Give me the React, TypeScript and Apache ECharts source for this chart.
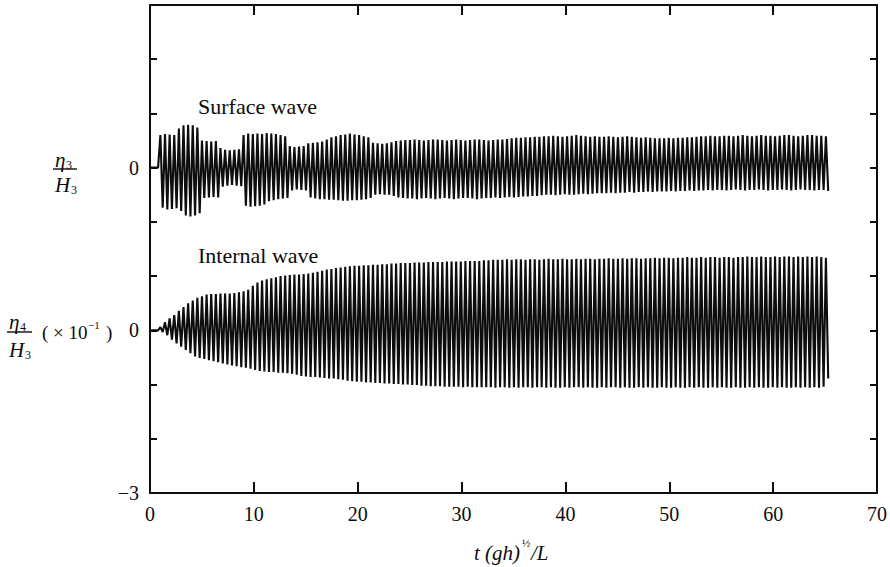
import React, { useEffect, useRef } from 'react';
import * as echarts from 'echarts';

// ---- axes ----
const X_MIN = 0;
const X_MAX = 70;
const X_STEP = 10;
const Y_MIN = -3;
const Y_MAX = 6;
const Y_STEP = 1;
// surface-wave axis (same tick spacing, zero three ticks higher)
const YS_MIN = -6;
const YS_MAX = 3;
const Y_LABEL_VALUES = [-3, 0, 3];
const Y_LABEL_TEXTS = ['\u22123', '0', '0'];

// ---- sampling of the records: one crest and one trough per wave period ----
const T_START = 1.0;
const PERIOD = 0.445;

// Surface wave eta3/H3: crest heights and trough depths per period (tick units)
const SURF_UP = [
  0.60, 0.62, 0.61, 0.60,
  0.72, 0.78, 0.79, 0.78, 0.74,
  0.50, 0.49, 0.48, 0.49,
  0.36, 0.33, 0.32, 0.33, 0.34,
  0.60, 0.63, 0.62, 0.63, 0.62,
  0.64, 0.63, 0.62, 0.60, 0.58,
  0.40, 0.38, 0.39, 0.40,
  0.45, 0.46, 0.47, 0.48, 0.52,
  0.56, 0.58, 0.60, 0.61, 0.63, 0.61, 0.60, 0.58, 0.56,
  0.46, 0.45, 0.44, 0.45, 0.47,
  0.49, 0.50, 0.51, 0.51, 0.52, 0.51, 0.50, 0.51, 0.52, 0.52, 0.51, 0.50, 0.51, 0.52, 0.51, 0.50, 0.51, 0.52, 0.52, 0.51, 0.50,
  0.51, 0.52, 0.52, 0.53, 0.54, 0.55, 0.55, 0.56, 0.56, 0.57,
  0.57, 0.58, 0.58, 0.59, 0.58, 0.57, 0.58, 0.59, 0.60, 0.59, 0.58, 0.57, 0.58, 0.57,
  0.57, 0.58, 0.57, 0.56, 0.57, 0.58, 0.57, 0.56, 0.55, 0.56, 0.55, 0.54,
  0.54, 0.54, 0.55, 0.54, 0.55, 0.55, 0.56, 0.56, 0.57,
  0.58, 0.58, 0.59, 0.58, 0.58, 0.59, 0.59, 0.58, 0.59, 0.60, 0.59, 0.58, 0.59, 0.60,
  0.59, 0.59, 0.58, 0.59, 0.60, 0.60, 0.59, 0.58, 0.59, 0.60, 0.60, 0.59, 0.59, 0.58,
];
const SURF_DN = [
  0.74, 0.77, 0.76, 0.75,
  0.80, 0.88, 0.90, 0.88, 0.84,
  0.56, 0.55, 0.54, 0.55,
  0.35, 0.33, 0.32, 0.33, 0.34,
  0.70, 0.72, 0.71, 0.70, 0.68,
  0.62, 0.60, 0.58, 0.57, 0.56,
  0.42, 0.40, 0.41, 0.42,
  0.55, 0.57, 0.58, 0.58, 0.59,
  0.59, 0.60, 0.61, 0.61, 0.60, 0.60, 0.59, 0.58, 0.56,
  0.50, 0.49, 0.50, 0.50, 0.52,
  0.55, 0.56, 0.57, 0.57, 0.58, 0.57, 0.56, 0.57, 0.58, 0.57, 0.56, 0.57, 0.58, 0.57, 0.56, 0.56, 0.57, 0.58, 0.57, 0.56, 0.56,
  0.55, 0.56, 0.55, 0.54, 0.55, 0.54, 0.53, 0.53, 0.52, 0.52,
  0.51, 0.50, 0.50, 0.51, 0.50, 0.49, 0.50, 0.50, 0.49, 0.48, 0.49, 0.48, 0.47, 0.47,
  0.47, 0.46, 0.47, 0.46, 0.46, 0.45, 0.46, 0.45, 0.45, 0.44, 0.45, 0.44,
  0.44, 0.44, 0.43, 0.44, 0.43, 0.43, 0.42, 0.43, 0.42,
  0.42, 0.41, 0.42, 0.41, 0.41, 0.42, 0.41, 0.40, 0.41, 0.42, 0.41, 0.41, 0.40, 0.41,
  0.42, 0.41, 0.41, 0.40, 0.41, 0.42, 0.41, 0.40, 0.41, 0.41, 0.42, 0.41, 0.41, 0.43,
];

// Internal wave eta4/H3 (x10^-1): crest heights and trough depths per period
const INT_UP = [
  0.06, 0.15, 0.22, 0.28, 0.36, 0.43, 0.50, 0.55, 0.60, 0.63, 0.66,
  0.67, 0.67, 0.68, 0.68, 0.68, 0.69, 0.70, 0.72, 0.75,
  0.82, 0.88, 0.92, 0.94, 0.96, 0.98, 1.00, 1.01, 1.02, 1.03,
  1.03, 1.04, 1.05, 1.06, 1.08, 1.10, 1.12, 1.13, 1.15, 1.16,
  1.17, 1.18, 1.19, 1.19, 1.20, 1.20, 1.21, 1.21, 1.22, 1.22,
  1.23, 1.23, 1.24, 1.24, 1.24, 1.25, 1.25, 1.25, 1.26, 1.26,
  1.26, 1.26, 1.27, 1.27, 1.27, 1.27, 1.28, 1.28, 1.28, 1.28,
  1.29, 1.29, 1.30, 1.30, 1.30, 1.31, 1.30, 1.31, 1.31, 1.30,
  1.31, 1.31, 1.30, 1.31, 1.32, 1.31, 1.31, 1.32, 1.31, 1.31,
  1.32, 1.31, 1.32, 1.32, 1.31, 1.32, 1.32, 1.33, 1.32, 1.32,
  1.33, 1.32, 1.33, 1.33, 1.32, 1.33, 1.33, 1.34, 1.33, 1.34,
  1.34, 1.33, 1.34, 1.34, 1.35, 1.34, 1.34, 1.35, 1.34, 1.35,
  1.35, 1.34, 1.35, 1.35, 1.34, 1.35, 1.35, 1.36, 1.35, 1.35,
  1.36, 1.35, 1.35, 1.36, 1.35, 1.36, 1.36, 1.35, 1.36, 1.35,
  1.36, 1.35, 1.36, 1.35, 1.34,
];
const INT_DN = [
  0.03, 0.09, 0.17, 0.24, 0.30, 0.36, 0.42, 0.48, 0.51, 0.53, 0.55,
  0.57, 0.59, 0.61, 0.63, 0.65, 0.66, 0.68, 0.69, 0.71,
  0.73, 0.75, 0.76, 0.77, 0.77, 0.78, 0.78, 0.79, 0.80, 0.82,
  0.84, 0.85, 0.86, 0.86, 0.87, 0.88, 0.89, 0.89, 0.90, 0.91,
  0.93, 0.94, 0.95, 0.95, 0.96, 0.96, 0.97, 0.97, 0.98, 0.98,
  0.99, 0.99, 1.00, 1.00, 1.01, 1.01, 1.02, 1.02, 1.03, 1.03,
  1.03, 1.04, 1.04, 1.04, 1.04, 1.05, 1.04, 1.05, 1.05, 1.05,
  1.05, 1.05, 1.06, 1.05, 1.05, 1.06, 1.05, 1.06, 1.05, 1.05,
  1.06, 1.05, 1.05, 1.06, 1.05, 1.06, 1.06, 1.05, 1.06, 1.05,
  1.05, 1.06, 1.05, 1.06, 1.06, 1.05, 1.06, 1.05, 1.05, 1.06,
  1.05, 1.06, 1.06, 1.05, 1.06, 1.05, 1.06, 1.06, 1.05, 1.06,
  1.06, 1.05, 1.06, 1.06, 1.05, 1.06, 1.05, 1.06, 1.06, 1.05,
  1.06, 1.05, 1.06, 1.06, 1.05, 1.06, 1.06, 1.05, 1.06, 1.05,
  1.06, 1.06, 1.05, 1.06, 1.05, 1.06, 1.06, 1.05, 1.06, 1.05,
  1.06, 1.05, 1.06, 1.04, 0.89,
];

const INK = '#0d0d0d';
const SERIF = '"Liberation Serif", "Times New Roman", serif';

function record(up: number[], dn: number[]): number[][] {
  const pts: number[][] = [[0, 0], [T_START - PERIOD / 2, 0]];
  up.forEach((u, i) => {
    pts.push([T_START + i * PERIOD, u]);
    pts.push([T_START + (i + 0.5) * PERIOD, -dn[i]]);
  });
  return pts;
}

function txt(text: string, x: number, y: number, size: number, italic = false) {
  return {
    type: 'text',
    x,
    y,
    silent: true,
    style: {
      text,
      fill: INK,
      fontSize: size,
      fontFamily: SERIF,
      fontStyle: italic ? 'italic' : 'normal',
      textAlign: 'left',
      textVerticalAlign: 'middle',
    },
  };
}

function rule(x1: number, x2: number, y: number) {
  return {
    type: 'line',
    silent: true,
    shape: { x1, y1: y, x2, y2: y },
    style: { stroke: INK, lineWidth: 1.4 },
  };
}

const axisCommon = {
  axisLine: { show: true, onZero: false, lineStyle: { color: INK, width: 2 } },
  splitLine: { show: false },
};

export default function App() {
  const ref = useRef<HTMLDivElement>(null);
  useEffect(() => {
    const chart = echarts.init(ref.current!, null, { renderer: 'svg' });
    const option: any = {
      animation: false,
      backgroundColor: '#ffffff',
      grid: { left: 150, top: 5, width: 730, height: 488, containLabel: false },
      xAxis: [
        {
          type: 'value',
          position: 'bottom',
          min: X_MIN,
          max: X_MAX,
          interval: X_STEP,
          ...axisCommon,
          axisTick: { show: true, inside: true, length: 11, lineStyle: { color: INK, width: 2 } },
          axisLabel: { color: INK, fontSize: 20, fontFamily: SERIF, margin: 11 },
        },
        {
          type: 'value',
          position: 'top',
          min: X_MIN,
          max: X_MAX,
          interval: X_STEP,
          ...axisCommon,
          axisTick: { show: true, inside: true, length: 10, lineStyle: { color: INK, width: 2 } },
          axisLabel: { show: false },
        },
      ],
      yAxis: [
        {
          type: 'value',
          position: 'left',
          min: Y_MIN,
          max: Y_MAX,
          interval: Y_STEP,
          ...axisCommon,
          axisTick: { show: true, inside: true, length: 7, lineStyle: { color: INK, width: 2 } },
          axisLabel: {
            color: INK,
            fontSize: 20,
            fontFamily: SERIF,
            margin: 11,
            formatter: (v: number) => {
              const i = Y_LABEL_VALUES.indexOf(v);
              return i >= 0 ? Y_LABEL_TEXTS[i] : '';
            },
          },
        },
        {
          type: 'value',
          position: 'right',
          min: YS_MIN,
          max: YS_MAX,
          interval: Y_STEP,
          ...axisCommon,
          axisTick: { show: true, inside: true, length: 7, lineStyle: { color: INK, width: 2 } },
          axisLabel: { show: false },
        },
      ],
      series: [
        {
          name: 'Surface wave',
          type: 'line',
          xAxisIndex: 0,
          yAxisIndex: 1,
          data: record(SURF_UP, SURF_DN),
          showSymbol: false,
          symbol: 'none',
          lineStyle: { color: INK, width: 2.1 },
          silent: true,
        },
        {
          name: 'Internal wave',
          type: 'line',
          xAxisIndex: 0,
          yAxisIndex: 0,
          data: record(INT_UP, INT_DN),
          showSymbol: false,
          symbol: 'none',
          lineStyle: { color: INK, width: 2.1 },
          silent: true,
        },
      ],
      graphic: [
        txt('Surface wave', 198, 106, 22),
        txt('Internal wave', 198, 255, 22),
        // eta3 / H3
        txt('\u03b7', 55, 160, 21, true),
        txt('3', 66, 165, 12),
        rule(53, 77, 169),
        txt('H', 55, 185, 21, true),
        txt('3', 71, 190, 12),
        // eta4 / H3 (x10^-1)
        txt('\u03b7', 9, 322, 21, true),
        txt('4', 20, 327, 12),
        rule(7, 32, 332),
        txt('H', 9, 350, 21, true),
        txt('3', 25, 355, 12),
        txt('( \u00d7 10', 42, 332, 19),
        txt('\u22121', 88, 325, 11),
        txt(')', 106, 332, 19),
        // x-axis title: t (gh)^1/2 / L
        txt('t (gh)', 474, 553, 21, true),
        txt('\u00bd', 522, 543, 11),
        txt('/L', 531, 553, 21, true),
      ],
    };
    chart.setOption(option);
    return () => chart.dispose();
  }, []);
  return (
    <div
      ref={ref}
      style={{ position: 'fixed', left: 0, top: 0, width: 890, height: 567, background: '#fff' }}
    />
  );
}
